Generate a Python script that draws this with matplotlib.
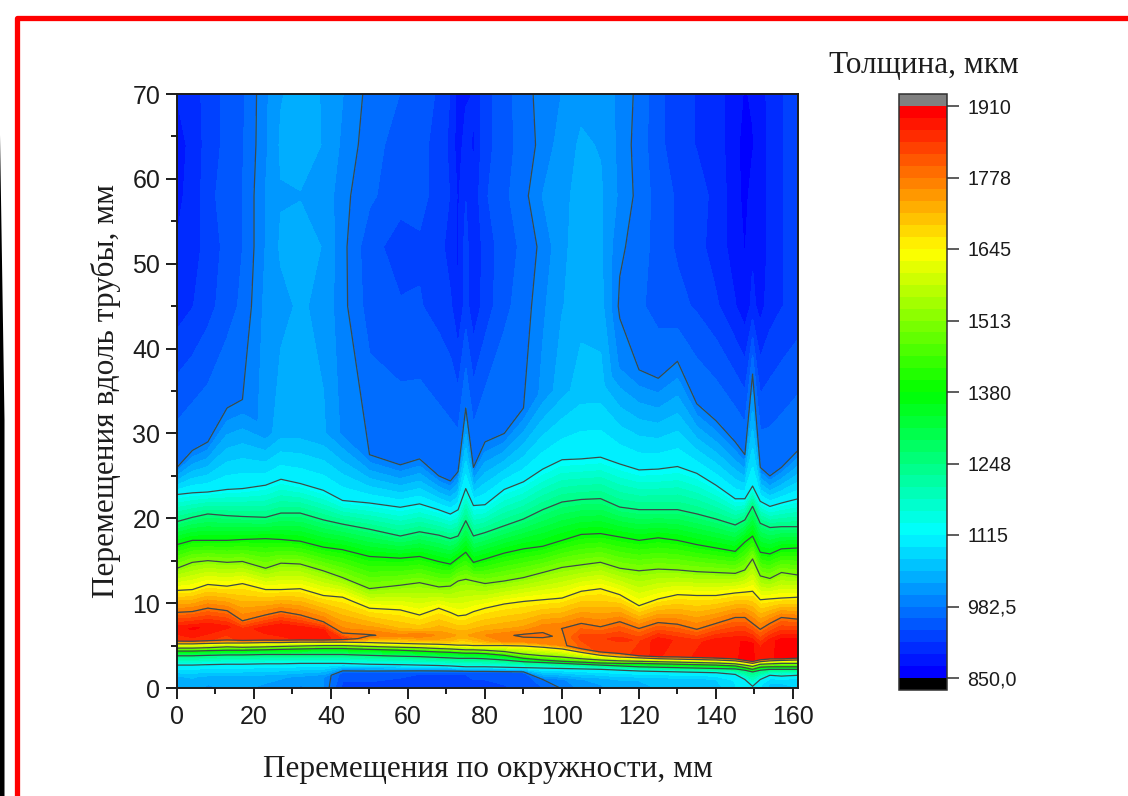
import numpy as np
import matplotlib
matplotlib.use("Agg")
import matplotlib.pyplot as plt
from matplotlib.colors import LinearSegmentedColormap
from matplotlib.lines import Line2D
from matplotlib.patches import Polygon

# ---- data: one value per column position ----
x_mm = [0,4,8,13,17,23,27,32,38,43,50,58,63,68,71,73,75,77,80,85,90,95,100,105,110,115,120,125,130,135,140,145,147.5,149.5,151.5,154,157,161.3]

# thickness at y = 0
v_bottom = [1030,1040,1020,1030,1030,1020,1010,1000,1005,930,930,925,920,920,925,925,925,930,930,935,945,960,985,1010,1020,1040,1040,1050,1050,1050,1060,1090,1105,1110,1090,1060,1060,1070]
# a low point near the bottom edge
low_y = [1.3,1.3,1.3,1.3,1.3,1.3,1.3,1.3,1.3,1.8,1.8,1.8,1.8,1.8,1.8,1.8,1.8,1.8,1.8,1.8,1.8,1.0,1.0,1.0,1.0,1.0,1.0,1.0,1.0,1.0,1.0,0.9,0.5,0.1,0.5,0.8,0.8,0.9]
low_v = [1045,1050,1040,1040,1040,1035,1030,1020,1005,950,950,945,940,940,940,940,940,945,945,950,955,982.5,1000,1025,1035,1050,1050,1055,1060,1060,1070,1095,1110,1114,1100,1075,1075,1080]
# heights (mm) of the iso-lines on the rising flank
h1115_low = [2.7,2.7,2.75,2.8,2.8,2.85,2.85,2.9,2.9,2.9,2.8,2.75,2.7,2.65,2.6,2.55,2.5,2.5,2.5,2.45,2.4,2.35,2.3,2.25,2.2,2.1,2.0,1.95,1.9,1.85,1.8,1.6,1.0,0.2,1.0,1.5,1.4,1.5]
h1248_low = [3.8,3.8,3.85,3.9,3.9,3.95,3.95,3.95,3.95,3.95,3.85,3.75,3.7,3.6,3.55,3.5,3.5,3.5,3.45,3.3,3.1,3.0,2.9,2.8,2.7,2.6,2.5,2.45,2.4,2.35,2.3,2.25,2.1,1.9,2.1,2.2,2.2,2.2]
h1380_low = [4.35,4.35,4.4,4.45,4.45,4.5,4.55,4.6,4.65,4.65,4.55,4.45,4.35,4.25,4.2,4.15,4.1,4.1,4.05,3.85,3.5,3.3,3.15,3.05,2.95,2.9,2.9,2.85,2.8,2.75,2.7,2.6,2.4,2.2,2.45,2.5,2.5,2.5]
h1513_low = [4.7,4.7,4.75,4.85,4.8,4.85,4.9,4.95,5.0,5.0,4.9,4.8,4.75,4.65,4.6,4.55,4.5,4.5,4.45,4.3,4.0,3.8,3.65,3.45,3.3,3.2,3.15,3.1,3.05,3.0,2.95,2.85,2.7,2.55,2.8,2.85,2.9,2.9]
h1645_low = [5.2,5.2,5.25,5.3,5.3,5.35,5.35,5.4,5.4,5.4,5.35,5.25,5.2,5.15,5.1,5.05,5.05,5.0,5.0,5.0,4.95,4.8,4.6,4.2,3.85,3.65,3.55,3.45,3.4,3.35,3.3,3.2,3.05,2.9,3.1,3.2,3.25,3.3]
# ridge, body and crest of the thick band
ridge_y = [5.7,5.7,5.75,5.8,5.8,5.8,5.8,5.85,5.85,5.85,5.8,5.8,5.75,5.7,5.7,5.7,5.7,5.65,5.6,5.55,5.5,5.3,5.1,4.7,4.4,4.2,3.95,3.85,3.8,3.75,3.7,3.6,3.45,3.3,3.5,3.6,3.6,3.7]
ridge_v = [1850,1860,1850,1830,1860,1850,1860,1870,1880,1840,1730,1720,1730,1730,1720,1700,1700,1710,1730,1760,1760,1760,1770,1800,1830,1820,1860,1870,1850,1870,1880,1880,1900,1890,1880,1880,1900,1890]
body_y = [7.0,7.0,7.2,7.2,6.9,7.0,7.2,7.0,6.8,6.2,6.2,6.2,6.2,6.2,6.2,6.2,6.2,6.2,6.2,6.2,6.2,6.2,6.0,6.0,5.8,5.8,5.5,5.6,5.6,5.3,5.5,5.5,5.4,5.2,5.0,5.4,5.6,5.6]
body_v = [1880,1890,1885,1870,1850,1880,1885,1880,1870,1795,1782,1760,1775,1750,1740,1730,1730,1740,1755,1770,1785,1785,1770,1830,1840,1850,1840,1880,1860,1860,1880,1885,1890,1890,1860,1880,1895,1895]
crest_y = [8.9,9.0,9.4,9.1,7.9,8.6,9.0,8.6,7.8,6.6,7.3,7.0,7.0,7.0,7.0,7.0,7.0,7.0,7.0,7.0,7.0,7.3,7.0,7.6,7.2,7.8,7.0,7.7,7.5,6.9,7.6,8.3,8.3,7.6,6.9,7.6,8.3,8.1]
crest_v = [1778,1778,1778,1778,1778,1778,1778,1778,1778,1770,1730,1710,1700,1720,1710,1700,1700,1710,1720,1730,1740,1760,1778,1778,1778,1778,1778,1778,1778,1778,1778,1778,1778,1778,1778,1778,1778,1778]
# heights (mm) of the iso-lines on the falling flank
h1645_up = [11.5,11.6,12.2,12.0,12.3,11.6,11.6,11.7,10.9,10.7,9.4,9.2,8.6,9.4,8.9,8.5,8.6,9.0,9.4,9.9,10.2,10.4,10.6,11.4,11.7,11.0,9.7,10.5,11.0,10.9,10.9,11.2,11.3,11.4,10.4,10.5,10.6,10.7]
h1513_up = [14.1,14.8,15.0,14.8,14.9,14.1,14.7,14.6,13.8,13.0,11.7,12.1,12.4,11.9,12.0,12.6,12.8,12.6,12.3,12.6,13.0,13.6,14.2,14.5,14.8,14.1,13.8,14.0,13.9,13.7,13.6,13.5,13.9,15.2,13.2,12.9,13.6,13.3]
h1380_up = [16.9,17.4,17.4,17.4,17.5,17.6,17.5,17.3,16.6,16.3,15.5,15.3,15.5,14.9,14.6,15.3,16.0,14.8,15.2,15.9,16.4,16.7,17.4,18.1,18.2,17.8,17.4,17.7,17.4,16.9,16.5,16.1,17.2,17.9,16.0,15.8,16.4,16.5]
h1248_up = [19.6,20.1,20.5,20.3,20.2,20.1,20.6,20.6,19.8,19.3,18.7,17.9,18.4,18.0,17.6,17.9,19.7,17.9,18.3,19.1,19.9,21.0,21.9,22.2,22.3,21.3,21.0,21.0,21.0,20.5,19.9,19.2,19.8,21.4,19.4,18.9,19.0,19.0]
h1115_up = [22.8,23.0,23.1,23.4,23.5,23.9,24.6,24.1,23.3,22.1,21.8,21.3,21.7,21.0,20.5,21.0,23.5,21.5,21.6,23.4,24.3,25.8,26.9,27.0,27.2,26.4,25.7,25.8,26.1,25.3,23.9,22.3,22.3,23.8,22.0,21.4,21.8,22.3]
# upper boundary of the blue field, then the values further up
edge_y = [26.0,28.0,29.0,33.0,34.0,30,30,30,30,30,27.5,26.3,27,25,24.4,25.5,33.0,26,29,30,33,35,35,35,35,38,37.5,36.5,38.5,33.5,31.5,29,27.5,37,26,25,26,28]
edge_v = [982.5,982.5,982.5,982.5,982.5,1015,1040,1040,1030,1000,982.5,982.5,982.5,982.5,982.5,982.5,982.5,982.5,982.5,982.5,982.5,1010,1040,1060,1060,1000,982.5,982.5,982.5,982.5,982.5,982.5,982.5,982.5,982.5,982.5,982.5,982.5]
v_y45 = [905,915,930,950,965,1010,1020,1030,1020,990,950,940,940,930,920,895,925,900,925,955,970,1000,1025,1040,1035,978,965,950,945,935,920,895,880,900,885,905,915,925]
v_y52 = [895,905,925,945,960,1005,1030,1040,1025,990,945,930,935,925,905,890,925,895,925,950,965,990,1020,1040,1030,987,972,950,935,925,905,885,870,890,880,900,915,925]
v_y58 = [890,900,930,950,960,1005,1025,1025,1020,990,965,945,945,930,915,890,915,900,935,955,975,1005,1020,1035,1030,1000,975,950,935,925,910,880,865,880,880,900,915,925]
v_y64 = [885,900,925,945,958,1000,1030,1040,1025,1000,970,950,945,930,910,880,905,890,930,950,970,990,1015,1030,1025,998,972,945,925,915,905,880,860,870,880,900,915,925]
v_y70 = [895,905,925,945,955,1000,1025,1035,1025,1005,975,960,950,935,915,885,890,895,930,950,975,990,1005,1020,1015,1000,975,945,925,915,905,880,870,875,885,900,915,925]

iso_flank_low = [1115, 1248, 1380, 1513, 1645]
iso_flank_up = [1645, 1513, 1380, 1248, 1115]
upper_rows_mm = [45, 52, 58, 64, 70]
line_levels = [982.5, 1115, 1247.5, 1380, 1512.5, 1645, 1777.5]
cbar_ticks = [850, 982.5, 1115, 1247.5, 1380, 1512.5, 1645, 1777.5, 1910]
cbar_labels = ["850,0", "982,5", "1115", "1248", "1380", "1513", "1645", "1778", "1910"]
x_ticks = [0, 20, 40, 60, 80, 100, 120, 140, 160]
y_ticks = [0, 10, 20, 30, 40, 50, 60, 70]
x_title = "Перемещения по окружности, мм"
y_title = "Перемещения вдоль трубы, мм"
bar_title = "Толщина, мкм"

# ---- assemble the curvilinear grid ----
n = len(x_mm)
const = lambda h: np.full(n, float(h))
Y = np.array([const(0), low_y, h1115_low, h1248_low, h1380_low, h1513_low, h1645_low,
              ridge_y, body_y, crest_y, h1645_up, h1513_up, h1380_up, h1248_up, h1115_up,
              edge_y] + [const(h) for h in upper_rows_mm], dtype=float)
Z = np.array([v_bottom, low_v] + [const(v) for v in iso_flank_low] +
             [ridge_v, body_v, crest_v] + [const(v) for v in iso_flank_up] +
             [edge_v, v_y45, v_y52, v_y58, v_y64, v_y70], dtype=float)
X = np.tile(np.array(x_mm, dtype=float), (Y.shape[0], 1))

W, H = 1128, 796
fig = plt.figure(figsize=(W / 100, H / 100), dpi=100, facecolor="white")
SERIF = "Liberation Serif"
SANS = "Liberation Sans"
TXT = "#1c1c1c"

def box(l, t, r, b):
    return [l / W, 1 - b / H, (r - l) / W, (b - t) / H]

ax = fig.add_axes(box(177, 94, 798, 688))
cmap = LinearSegmentedColormap.from_list(
    "rb", ["#0000ff", "#00ffff", "#00ff00", "#ffff00", "#ff0000"], N=48)
cmap.set_over("#808080")
cmap.set_under("#000000")
levels = np.linspace(850, 1910, 49)
cf = ax.contourf(X, Y, Z, levels=levels, cmap=cmap, extend="both")
cf.set_edgecolor("face")
cf.set_linewidth(0.4)
ax.contour(X, Y, Z, levels=line_levels, colors="#3c4a4a", linewidths=0.9)
ax.set_xlim(0, 161.3)
ax.set_ylim(0, 70)
ax.set_xticks(x_ticks)
ax.set_yticks(y_ticks)
ax.set_xticks(np.arange(10, 160, 20), minor=True)
ax.set_yticks(np.arange(5, 70, 10), minor=True)
ax.tick_params(which="major", length=8, width=1.4, labelsize=18, labelcolor=TXT, color=TXT, pad=4)
ax.tick_params(which="minor", length=4.5, width=1.4, color=TXT)
for lab in ax.get_xticklabels() + ax.get_yticklabels():
    lab.set_family(SANS)
for s in ax.spines.values():
    s.set_linewidth(1.4)
    s.set_color(TXT)

cax = fig.add_axes(box(899, 94, 947, 690))
cb = fig.colorbar(cf, cax=cax, extend="both", extendrect=True, extendfrac=12 / 572,
                  ticks=cbar_ticks, drawedges=False)
cb.minorticks_off()
cb.set_ticklabels(cbar_labels)
cb.outline.set_linewidth(1.1)
cb.outline.set_edgecolor("#303030")
cax.tick_params(length=8.5, width=1.1, labelsize=14.2, labelcolor=TXT, color="#303030", pad=6)
for lab in cax.get_yticklabels():
    lab.set_family(SANS)

fig.text(488 / W, 1 - 769 / H, x_title, family=SERIF, fontsize=22.5, color=TXT, ha="center", va="center")
fig.text(106 / W, 1 - 391 / H, y_title, family=SERIF, fontsize=22.5, color=TXT, ha="center", va="center", rotation=90)
fig.text(924 / W, 1 - 65 / H, bar_title, family=SERIF, fontsize=22.5, color=TXT, ha="center", va="center")

# screenshot frame: red line and dark strip along the left edge
fx = lambda p: p / W
fy = lambda p: 1 - p / H
fig.add_artist(Line2D([fx(16.5), fx(16.5), fx(W)], [fy(H), fy(18), fy(18)], color="#ff0000",
                      lw=3.8, solid_joinstyle="round", transform=fig.transFigure))
fig.add_artist(Polygon([(fx(0), fy(135)), (fx(1.5), fy(230)), (fx(4.5), fy(420)), (fx(4.5), fy(H)), (fx(0), fy(H))],
                       closed=True, facecolor="black", edgecolor="none", transform=fig.transFigure))

fig.savefig("out.png", dpi=100)
